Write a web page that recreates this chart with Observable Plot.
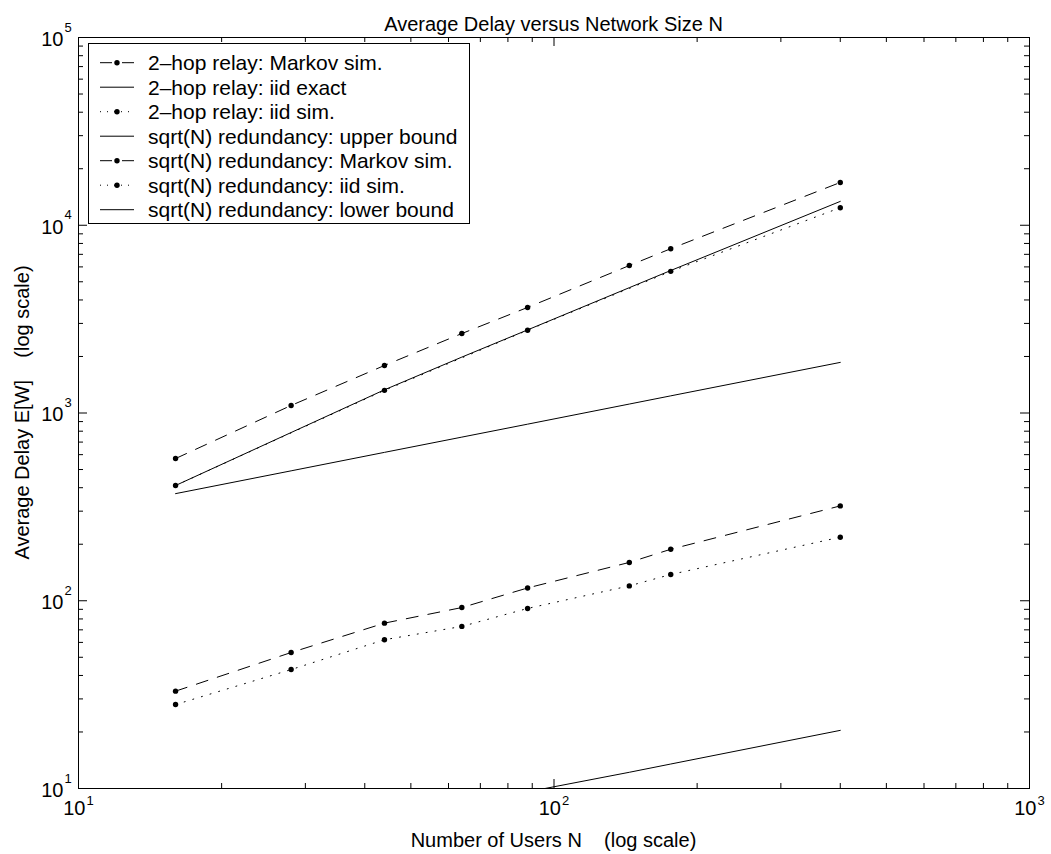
<!DOCTYPE html>
<html><head><meta charset="utf-8">
<script src="https://cdn.jsdelivr.net/npm/d3@7"></script>
<script src="https://cdn.jsdelivr.net/npm/@observablehq/plot@0.6"></script>
<style>body{margin:0;background:#fff;} #chart{position:relative;width:1051px;height:854px;}</style>
</head><body><div id="chart"></div>
<script>
// ---- data ----
const N_all = [16, 28, 44, 64, 88, 144, 176, 400];
const relayMarkovSim = [572, 1097, 1791, 2650, 3650, 6100, 7500, 16900];
const relayIidExact = [411, 787, 1329, 1985, 2771, 4650, 5740, 13400];
const N_relayIidSim = [16, 44, 88, 176, 400];
const relayIidSim = [411, 1320, 2760, 5680, 12400];
const sqrtUpperBound = [372, 492, 617, 744, 872, 1116, 1234, 1860];
const sqrtMarkovSim = [33, 53, 76, 92, 117, 160, 188, 320];
const sqrtIidSim = [28, 43, 62, 73, 91, 120, 138, 218];
const sqrtLowerBound = [4.1, 5.4, 6.8, 8.2, 9.6, 12.2, 13.5, 20.4];
const seriesNames = [
  "2\u2013hop relay: Markov sim.",
  "2\u2013hop relay: iid exact",
  "2\u2013hop relay: iid sim.",
  "sqrt(N) redundancy: upper bound",
  "sqrt(N) redundancy: Markov sim.",
  "sqrt(N) redundancy: iid sim.",
  "sqrt(N) redundancy: lower bound"
];
const xMajor = [10, 100, 1000];
const yMajor = [10, 100, 1000, 10000, 100000];
const minorMult = [2, 3, 4, 5, 6, 7, 8, 9];
const titleText = "Average Delay versus Network Size N";
const xLabel = "Number of Users N    (log scale)";
const yLabel = "Average Delay E[W]    (log scale)";

// ---- styles ----
const DASH = "12,10", DOT = "1,8";
const series = [
  {name: seriesNames[0], N: N_all, v: relayMarkovSim, dash: DASH, marker: true},
  {name: seriesNames[1], N: N_all, v: relayIidExact, dash: null, marker: false},
  {name: seriesNames[2], N: N_relayIidSim, v: relayIidSim, dash: DOT, marker: true},
  {name: seriesNames[3], N: N_all, v: sqrtUpperBound, dash: null, marker: false},
  {name: seriesNames[4], N: N_all, v: sqrtMarkovSim, dash: DASH, marker: true},
  {name: seriesNames[5], N: N_all, v: sqrtIidSim, dash: DOT, marker: true},
  {name: seriesNames[6], N: N_all, v: sqrtLowerBound, dash: null, marker: false}
];
const rows = series.map(s => s.N.map((n, i) => ({series: s.name, N: n, v: s.v[i]})));

const xMinor = xMajor.slice(0, -1).flatMap(p => minorMult.map(m => m * p));
const yMinor = yMajor.slice(0, -1).flatMap(p => minorMult.map(m => m * p));

const W = 1051, H = 854, mL = 78, mR = 22, mT = 37, mB = 66;
const fw = W - mL - mR, fh = H - mT - mB;
const MAJ = 9, MIN = 5;
const FONT = "'Liberation Sans', Arial, Helvetica, sans-serif";

const marks = [];
series.forEach((s, i) => {
  marks.push(Plot.line(rows[i], {x: "N", y: "v", stroke: "black", strokeWidth: 1,
    strokeDasharray: s.dash || undefined, clip: true}));
  if (s.marker) marks.push(Plot.dot(rows[i], {x: "N", y: "v", r: 2.7, fill: "black", stroke: "none", clip: true}));
});
marks.push(
  Plot.frame({stroke: "black", strokeWidth: 1}),
  // inward ticks, bottom & top
  Plot.tickX(xMajor, {x: d => d, insetTop: fh - MAJ, stroke: "black"}),
  Plot.tickX(xMinor, {x: d => d, insetTop: fh - MIN, stroke: "black"}),
  Plot.tickX(xMajor, {x: d => d, insetBottom: fh - MAJ, stroke: "black"}),
  Plot.tickX(xMinor, {x: d => d, insetBottom: fh - MIN, stroke: "black"}),
  // inward ticks, left & right
  Plot.tickY(yMajor, {y: d => d, insetRight: fw - MAJ, stroke: "black"}),
  Plot.tickY(yMinor, {y: d => d, insetRight: fw - MIN, stroke: "black"}),
  Plot.tickY(yMajor, {y: d => d, insetLeft: fw - MAJ, stroke: "black"}),
  Plot.tickY(yMinor, {y: d => d, insetLeft: fw - MIN, stroke: "black"}),
  // tick labels 10^k
  Plot.text(xMajor, {x: d => d, text: () => "10", frameAnchor: "bottom", textAnchor: "end", dx: 7, dy: 26, fontSize: 20, fill: "black"}),
  Plot.text(xMajor, {x: d => d, text: d => String(Math.round(Math.log10(d))), frameAnchor: "bottom", textAnchor: "start", dx: 8, dy: 16, fontSize: 13, fill: "black"}),
  Plot.text(yMajor, {y: d => d, text: () => "10", frameAnchor: "left", textAnchor: "end", dx: -15, dy: 2, fontSize: 20, fill: "black"}),
  Plot.text(yMajor, {y: d => d, text: d => String(Math.round(Math.log10(d))), frameAnchor: "left", textAnchor: "start", dx: -14, dy: -10, fontSize: 13, fill: "black"})
);

const plot = Plot.plot({
  width: W, height: H,
  marginLeft: mL, marginRight: mR, marginTop: mT, marginBottom: mB,
  x: {type: "log", domain: [10, 1000], axis: null},
  y: {type: "log", domain: [10, 1e5], axis: null},
  style: {fontFamily: FONT, fontSize: "20px", background: "white", color: "black", overflow: "visible"},
  marks
});
document.getElementById("chart").appendChild(plot);

// ---- title, axis labels, legend ----
const svg = d3.select(plot);
svg.append("text").attr("x", mL + fw / 2).attr("y", 24).attr("text-anchor", "middle")
  .attr("dominant-baseline", "central").attr("font-size", 20).attr("font-family", FONT).attr("fill", "black").text(titleText);
svg.append("text").attr("x", mL + fw / 2).attr("y", 840).attr("text-anchor", "middle")
  .attr("dominant-baseline", "central").attr("font-size", 20).attr("font-family", FONT).attr("fill", "black")
  .attr("xml:space", "preserve").style("white-space", "pre").text(xLabel);
svg.append("text").attr("transform", `translate(22,${mT + fh / 2}) rotate(-90)`).attr("text-anchor", "middle")
  .attr("dominant-baseline", "central").attr("font-size", 20).attr("font-family", FONT).attr("fill", "black")
  .attr("xml:space", "preserve").style("white-space", "pre").text(yLabel);

const lg = svg.append("g");
lg.append("rect").attr("x", 88.5).attr("y", 43.5).attr("width", 381).attr("height", 180)
  .attr("fill", "white").attr("stroke", "black").attr("stroke-width", 1);
series.forEach((s, i) => {
  const cy = 62.7 + i * 24.5;
  lg.append("line").attr("x1", 100).attr("x2", 134).attr("y1", cy).attr("y2", cy)
    .attr("stroke", "black").attr("stroke-width", 1).attr("stroke-dasharray", s.dash === DOT ? "1,6" : s.dash);
  if (s.marker) lg.append("circle").attr("cx", 117).attr("cy", cy).attr("r", 2.7).attr("fill", "black");
  lg.append("text").attr("x", 148).attr("y", cy).attr("text-anchor", "start").attr("dominant-baseline", "central")
    .attr("font-size", 21).attr("font-family", FONT).attr("fill", "black").text(s.name);
});
</script>
</body></html>
